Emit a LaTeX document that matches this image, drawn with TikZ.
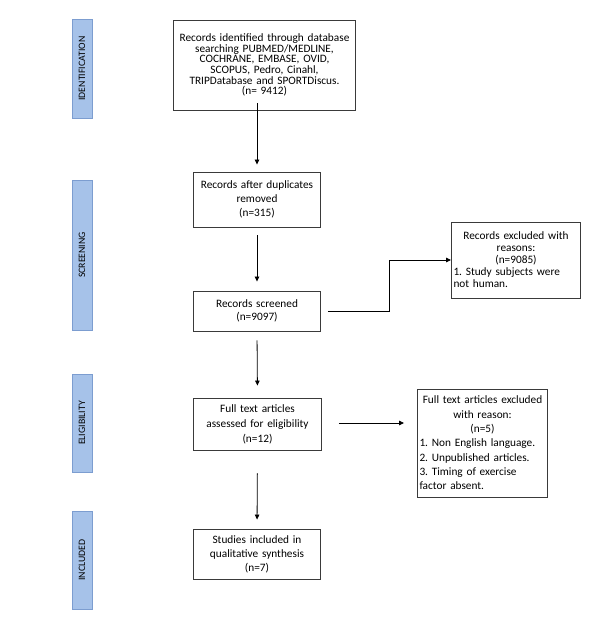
\documentclass[tikz,border=0pt]{standalone}
\usepackage{fontspec}
\setmainfont{Carlito}
\usetikzlibrary{arrows.meta}
\frenchspacing
\definecolor{barfill}{HTML}{A6C2E9}
\definecolor{barline}{HTML}{7C9DD0}
\definecolor{boxline}{HTML}{3A3A3A}
\tikzset{
  stagebar/.style={draw=barline, fill=barfill, line width=0.8pt, minimum width=20pt, inner sep=0pt},
  stagetext/.style={rotate=90, font=\fontsize{9.8}{11}\selectfont, text=black},
  flowbox/.style={draw=boxline, line width=0.9pt, inner sep=2pt, align=center},
  lsp/.style={font=\fontsize{11.3}{#1}\selectfont},
  flowarrow/.style={draw=black, line width=0.8pt, -{Triangle[length=5pt,width=4.5pt]}},
  flowline/.style={draw=black, line width=0.8pt}
}
\begin{document}
\begin{tikzpicture}[x=1pt,y=-1pt]
\useasboundingbox (0,0) rectangle (599,624);
% stage bars
\node[stagebar, minimum height=99pt] (s1) at (82,68.5) {};
\node[stagetext] at (s1) {IDENTIFICATION};
\node[stagebar, minimum height=150pt] (s2) at (82,255) {};
\node[stagetext] at (s2) {SCREENING};
\node[stagebar, minimum height=98pt] (s3) at (82,423) {};
\node[stagetext] at (s3) {ELIGIBILITY};
\node[stagebar, minimum height=98pt] (s4) at (82,560) {};
\node[stagetext] at (s4) {INCLUDED};
% boxes
\node[flowbox, lsp=10.6, minimum width=181pt, minimum height=90pt, text width=178pt] (b1) at (264.5,65)
  {Records identified through database\\searching PUBMED/MEDLINE,\\COCHRANE, EMBASE, OVID,\\SCOPUS, Pedro, Cinahl,\\TRIPDatabase and SPORTDiscus.\\(n= 9412)};
\node[flowbox, lsp=14, minimum width=126pt, minimum height=55pt, text width=123pt] (b2) at (257,199.5)
  {Records after duplicates\\removed\\(n=315)};
\node[flowbox, lsp=13.3, minimum width=126pt, minimum height=40pt, text width=123pt] (b3) at (257,311)
  {Records screened\\(n=9097)};
\node[flowbox, lsp=12, minimum width=128pt, minimum height=76pt, text width=125pt, align=left] (b4) at (516,260)
  {{\centering Records excluded with\\reasons:\\(n=9085)\par}1. Study subjects were\\not human.};
\node[flowbox, lsp=15, minimum width=127pt, minimum height=52pt, text width=124pt] (b5) at (257.5,424)
  {Full text articles\\assessed for eligibility\\(n=12)};
\node[flowbox, lsp=14.3, minimum width=129pt, minimum height=108pt, text width=126pt, align=left] (b6) at (482.5,443)
  {{\centering Full text articles excluded\\with reason:\\(n=5)\par}1. Non English language.\\2. Unpublished articles.\\3. Timing of exercise\\factor absent.};
\node[flowbox, lsp=14, minimum width=126pt, minimum height=50pt, text width=123pt] (b7) at (257,554)
  {Studies included in\\qualitative synthesis\\(n=7)};
% connectors
\coordinate (a1s) at ([yshift=7pt]b2|-b1.south);
\draw[flowarrow, shorten >=7pt] (a1s) -- (b2.north);
\draw[flowarrow, shorten <=8pt, shorten >=9pt] (b2.south) -- (b3.north);
\draw[flowarrow, shorten <=9pt, shorten >=12pt] (b3.south) -- (b5.north);
\draw[flowarrow, shorten <=23pt, shorten >=9pt] (b5.south) -- (b7.north);
\coordinate (elbow) at (389,0);
\draw[flowarrow, shorten <=7pt] (b3.east) -- (elbow|-b3.east) -- (elbow|-b4.west) -- (b4.west);
\draw[flowarrow, shorten <=17pt, shorten >=13pt] ([yshift=1pt]b5.east) -- ([yshift=1pt]b5.east-|b6.west);
\end{tikzpicture}
\end{document}
